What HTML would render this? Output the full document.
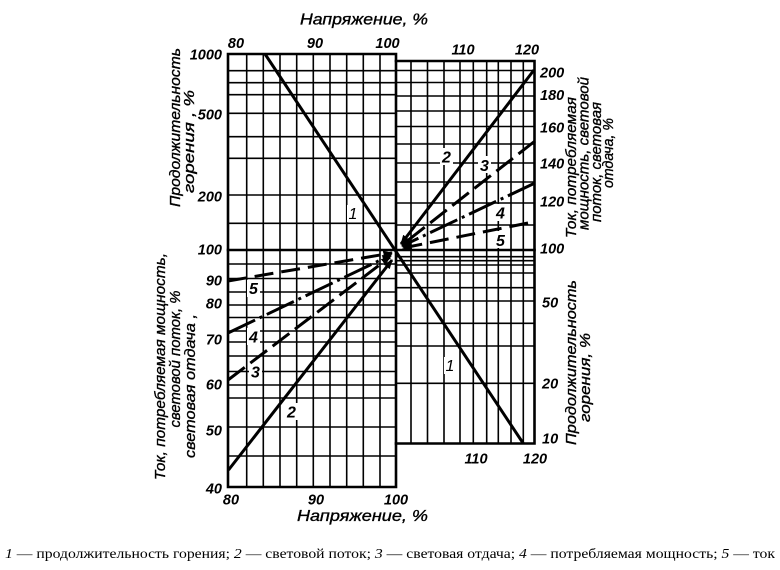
<!DOCTYPE html>
<html>
<head>
<meta charset="utf-8">
<style>
  html,body{margin:0;padding:0;background:#fff;}
  svg{display:block;}
  .t{font-family:"Liberation Sans","DejaVu Sans",sans-serif;font-style:italic;fill:#000;}
  .b{font-weight:bold;}
  .s{stroke:#000;stroke-width:0.35;}
  .cap{font-family:"Liberation Serif","DejaVu Serif",serif;fill:#000;}
</style>
</head>
<body>
<svg width="780" height="570" viewBox="0 0 780 570" xmlns="http://www.w3.org/2000/svg">
<defs>
  <marker id="ar" viewBox="0 0 10 10" refX="9" refY="5" markerWidth="3.2" markerHeight="3.2" orient="auto-start-reverse" markerUnits="strokeWidth">
    <path d="M0,1 L10,5 L0,9 z" fill="#000"/>
  </marker>
</defs>
<rect width="780" height="570" fill="#fff"/>

<!-- grid lines -->
<g stroke="#000" stroke-width="1.6" fill="none">
  <path d="M246.7,54V487 M263.3,54V487 M280,54V487 M296.7,54V487 M313.3,54V487 M330,54V487 M346.7,54V487 M363.3,54V487 M380,54V487"/>
  <path d="M228,70.7H396 M228,82.7H396 M228,94.7H396 M228,113.3H396 M228,136.7H396 M228,158.3H396 M228,195H396 M228,223.3H396"/>
  <path d="M228,264H396 M228,278.5H396 M228,292H396 M228,305H396 M228,317.5H396 M228,331H396 M228,342H396 M228,356H396 M228,371.5H396 M228,385H396 M228,398H396 M228,427H396 M228,456H396"/>
  <path d="M411,61V443.5 M427.5,61V443.5 M444,61V443.5 M460,61V443.5 M473.3,61V443.5 M486.7,61V443.5 M498.3,61V443.5 M511,61V443.5 M523.3,61V443.5"/>
  <path d="M396,70.5H534.5 M396,82.5H534.5 M396,96H534.5 M396,111H534.5 M396,126.5H534.5 M396,144H534.5 M396,163H534.5 M396,182H534.5 M396,203H534.5 M396,225H534.5"/>
  <path d="M396,256.7H534.5 M396,260.7H534.5 M396,265H534.5 M396,273H534.5 M396,287.7H534.5 M396,301H534.5 M396,323.3H534.5 M396,346H534.5 M396,383.3H534.5"/>
</g>

<!-- borders -->
<g stroke="#000" stroke-width="2.6" fill="none" stroke-linecap="square">
  <path d="M228,54H396V487H228Z"/>
  <path d="M396,61H534.5V443.5H396"/>
  <path d="M228,250H534.5"/>
</g>

<!-- label backgrounds -->
<g fill="#fff">
  <rect x="347" y="205" width="12" height="17"/>
  <rect x="444" y="357" width="12" height="17"/>
  <rect x="440" y="148" width="13" height="17"/>
  <rect x="478" y="156" width="13" height="17"/>
  <rect x="494" y="204" width="13" height="17"/>
  <rect x="494" y="231" width="13" height="17"/>
  <rect x="247" y="280" width="13" height="17"/>
  <rect x="247" y="328" width="13" height="17"/>
  <rect x="249" y="363" width="13" height="17"/>
  <rect x="285" y="403" width="13" height="17"/>
</g>

<!-- curves -->
<g stroke="#000" stroke-width="3" fill="none" stroke-linecap="butt">
  <path d="M265,54 L523.3,443.5"/>
  <path d="M228.5,470 L392,260" marker-end="url(#ar)"/>
  <path d="M534,70 L401,244" marker-end="url(#ar)"/>
  <path d="M228,380 L390,257" stroke-dasharray="21 7" marker-end="url(#ar)"/>
  <path d="M535,141 L402,245" stroke-dasharray="21 7" marker-end="url(#ar)"/>
  <path d="M228,333 L391,255" stroke-dasharray="30 5 3 5" marker-end="url(#ar)"/>
  <path d="M535,183 L402,246" stroke-dasharray="30 5 3 5" marker-end="url(#ar)"/>
  <path d="M228,281 L392,253" stroke-dasharray="19 8" marker-end="url(#ar)"/>
  <path d="M528,223 L403,248" stroke-dasharray="19 8" marker-end="url(#ar)"/>
</g>

<!-- curve numbers -->
<g class="t" font-size="16" text-anchor="middle">
  <text x="353" y="219">1</text>
  <text x="450" y="371">1</text>
  <text class="b" x="446.5" y="162.5">2</text>
  <text class="b" x="484.5" y="171">3</text>
  <text class="b" x="500.5" y="218.5">4</text>
  <text class="b" x="500.5" y="246">5</text>
  <text class="b" x="253.5" y="294">5</text>
  <text class="b" x="253.5" y="342.5">4</text>
  <text class="b" x="255.5" y="377.5">3</text>
  <text class="b" x="291.5" y="417.5">2</text>
</g>

<!-- tick labels -->
<g class="t b" font-size="14.5">
  <g text-anchor="end">
    <text x="222" y="59.5">1000</text>
    <text x="222" y="119.5">500</text>
    <text x="222" y="201.5">200</text>
    <text x="222" y="254.5">100</text>
    <text x="222" y="285.5">90</text>
    <text x="222" y="308.5">80</text>
    <text x="222" y="344.5">70</text>
    <text x="222" y="389.5">60</text>
    <text x="222" y="435.5">50</text>
    <text x="222" y="493.5">40</text>
  </g>
  <g text-anchor="start">
    <text x="540" y="77.5">200</text>
    <text x="540" y="100">180</text>
    <text x="540" y="132.5">160</text>
    <text x="540" y="168.5">140</text>
    <text x="540" y="206.5">120</text>
    <text x="540" y="253.5">100</text>
    <text x="542" y="307.5">50</text>
    <text x="542" y="388.5">20</text>
    <text x="542" y="443.5">10</text>
  </g>
  <g text-anchor="middle">
    <text x="236" y="48">80</text>
    <text x="315" y="48">90</text>
    <text x="387.5" y="48">100</text>
    <text x="463" y="54.5">110</text>
    <text x="527" y="54.5">120</text>
    <text x="231" y="504.5">80</text>
    <text x="316" y="504.5">90</text>
    <text x="396" y="504.5">100</text>
    <text x="476" y="463.5">110</text>
    <text x="535" y="463.5">120</text>
  </g>
</g>

<!-- axis titles -->
<g class="t s" font-size="16">
  <text x="300" y="24.5" textLength="128" lengthAdjust="spacingAndGlyphs">Напряжение, %</text>
  <text x="297" y="521" textLength="131" lengthAdjust="spacingAndGlyphs">Напряжение, %</text>
</g>

<g class="t s" font-size="15" text-anchor="middle">
  <text transform="translate(180,127.5) rotate(-90)" textLength="159" lengthAdjust="spacingAndGlyphs">Продолжительность</text>
  <text transform="translate(194,141.5) rotate(-90)" textLength="103" lengthAdjust="spacingAndGlyphs">горения , %</text>
  <text transform="translate(165,366.5) rotate(-90)" textLength="227" lengthAdjust="spacingAndGlyphs">Ток, потребляемая мощность,</text>
  <text transform="translate(180,359) rotate(-90)" textLength="137" lengthAdjust="spacingAndGlyphs">световой поток, %</text>
  <text transform="translate(195,386) rotate(-90)" textLength="144" lengthAdjust="spacingAndGlyphs">световая отдача ,</text>
  <text transform="translate(576,167.5) rotate(-90)" textLength="141" lengthAdjust="spacingAndGlyphs">Ток, потребляемая</text>
  <text transform="translate(588.5,153.5) rotate(-90)" textLength="153" lengthAdjust="spacingAndGlyphs">мощность, световой</text>
  <text transform="translate(601,162) rotate(-90)" textLength="120" lengthAdjust="spacingAndGlyphs">поток, световая</text>
  <text transform="translate(613,153) rotate(-90)" textLength="70" lengthAdjust="spacingAndGlyphs">отдача, %</text>
  <text transform="translate(576,362.5) rotate(-90)" textLength="165" lengthAdjust="spacingAndGlyphs">Продолжительность</text>
  <text transform="translate(590,377.5) rotate(-90)" textLength="89" lengthAdjust="spacingAndGlyphs">горения, %</text>
</g>

<!-- caption -->
<text class="cap" x="5" y="558" font-size="14" textLength="770" lengthAdjust="spacingAndGlyphs"><tspan font-style="italic">1</tspan> — продолжительность горения; <tspan font-style="italic">2</tspan> — световой поток; <tspan font-style="italic">3</tspan> — световая отдача; <tspan font-style="italic">4</tspan> — потребляемая мощность; <tspan font-style="italic">5</tspan> — ток</text>
</svg>
</body>
</html>
